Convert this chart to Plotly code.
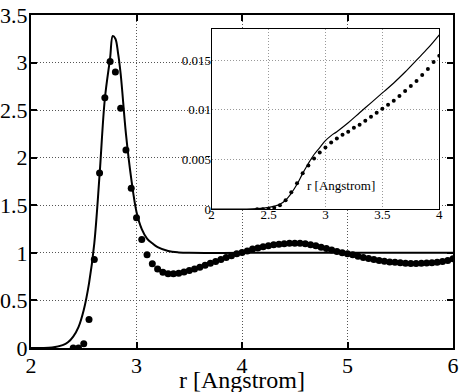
import plotly.graph_objects as go

# main panel: simulated g(r) (solid) vs reference points (dots)
r_line = [2.0, 2.1, 2.2, 2.3, 2.35, 2.4, 2.45, 2.5, 2.55, 2.6, 2.65, 2.7, 2.75,
          2.775, 2.8, 2.825, 2.85, 2.9, 2.95, 3.0, 3.05, 3.1, 3.15, 3.2, 3.3,
          3.4, 3.5, 4.0, 4.5, 5.0, 5.5, 6.0]
g_line = [0.0, 0.0, 0.005, 0.03, 0.06, 0.12, 0.22, 0.40, 0.68, 1.10, 1.82, 2.62, 3.05,
          3.28, 3.25, 3.10, 2.88, 2.25, 1.78, 1.43, 1.25, 1.15, 1.10, 1.06, 1.02,
          1.005, 1.0, 1.0, 1.0, 1.0, 1.0, 1.0]

r_pts = [round(2.4 + 0.05 * i, 2) for i in range(73)]
g_pts = [0.0, 0.0, 0.045, 0.30, 0.93, 1.84, 2.63, 3.01, 2.90, 2.52,
         2.08, 1.68, 1.37, 1.14, 0.98, 0.885, 0.83, 0.795, 0.78, 0.78,
         0.785, 0.80, 0.815, 0.83, 0.85, 0.87, 0.89, 0.91, 0.93, 0.95,
         0.97, 0.99, 1.005, 1.02, 1.04, 1.05, 1.065, 1.075, 1.085, 1.09,
         1.095, 1.10, 1.10, 1.10, 1.095, 1.085, 1.075, 1.06, 1.045, 1.03,
         1.015, 1.00, 0.99, 0.98, 0.965, 0.952, 0.94, 0.93, 0.92, 0.912,
         0.905, 0.90, 0.895, 0.89, 0.888, 0.888, 0.89, 0.893, 0.897, 0.90,
         0.91, 0.92, 0.937]

# inset: running integral
r_ins_line = [2.0, 2.2, 2.3, 2.4, 2.5, 2.55, 2.6, 2.65, 2.7, 2.75, 2.8, 2.85, 2.9,
              2.95, 3.0, 3.05, 3.1, 3.2, 3.3, 3.4, 3.5, 3.6, 3.7, 3.8, 3.9, 4.0]
n_ins_line = [0.0, 0.0, 0.00001, 0.00005, 0.00017, 0.0003, 0.0005, 0.0009, 0.0016,
              0.0025, 0.0036, 0.0046, 0.0055, 0.0062, 0.0069, 0.0074, 0.0078,
              0.0087, 0.0097, 0.0107, 0.0117, 0.0127, 0.0138, 0.0150, 0.0162, 0.01755]

r_ins_pts = [round(2.4 + 0.05 * i, 2) for i in range(33)]
n_ins_pts = [0.0, 0.0, 0.00003, 0.00015, 0.0004, 0.0009, 0.0017, 0.0026, 0.0036,
             0.0044, 0.0051, 0.0057, 0.0062, 0.0067, 0.0071, 0.0075, 0.0078,
             0.0082, 0.0085, 0.0089, 0.0093, 0.0097, 0.0101, 0.0105, 0.0109,
             0.0114, 0.0119, 0.0124, 0.0129, 0.0135, 0.0141, 0.0148, 0.01545]

main_xticks = [2, 3, 4, 5, 6]
main_yticks = [0, 0.5, 1, 1.5, 2, 2.5, 3, 3.5]
ins_xticks = [2, 2.5, 3, 3.5, 4]
ins_yticks = [0, 0.005, 0.01, 0.015]

SERIF = "Liberation Serif"

fig = go.Figure()
fig.add_trace(go.Scatter(x=r_line, y=g_line, mode="lines", line_shape="spline",
                         line=dict(color="black", width=2), showlegend=False))
fig.add_trace(go.Scatter(x=r_pts, y=g_pts, mode="markers",
                         marker=dict(color="black", size=7), showlegend=False))
fig.add_trace(go.Scatter(x=r_ins_line, y=n_ins_line, mode="lines", line_shape="spline",
                         line=dict(color="black", width=1.2), showlegend=False,
                         xaxis="x2", yaxis="y2"))
fig.add_trace(go.Scatter(x=r_ins_pts, y=n_ins_pts, mode="markers",
                         marker=dict(color="black", size=4), showlegend=False,
                         xaxis="x2", yaxis="y2"))

main_axis = dict(showline=True, linecolor="black", linewidth=2, mirror="ticks",
                 ticks="inside", ticklen=6, tickcolor="black", tickwidth=1.5,
                 showgrid=True, gridcolor="#555", griddash="1px,2px", gridwidth=1,
                 zeroline=False, automargin=False,
                 tickfont=dict(family=SERIF, size=22, color="black"))
inset_axis = dict(showline=True, linecolor="black", linewidth=1.2, mirror=True,
                  ticks="", showgrid=True, gridcolor="#999", griddash="1px,2px",
                  gridwidth=1, zeroline=False, automargin=False,
                  tickfont=dict(family=SERIF, size=13, color="black"))

fig.update_layout(
    width=463, height=392,
    margin=dict(l=31, r=10, t=15, b=44),
    paper_bgcolor="white", plot_bgcolor="white",
    xaxis=dict(main_axis, range=[2, 6], tickvals=main_xticks, ticklabelstandoff=-3),
    yaxis=dict(main_axis, range=[0, 3.5], tickvals=main_yticks, ticklabelstandoff=-3,
               ticktext=[f"{v:g}" for v in main_yticks]),
    xaxis2=dict(inset_axis, domain=[0.428, 0.9675], anchor="y2", range=[2, 4],
                tickvals=ins_xticks, ticklabelstandoff=-7),
    yaxis2=dict(inset_axis, domain=[0.417, 0.957], anchor="x2", range=[0, 0.0181],
                tickvals=ins_yticks, ticklabelstandoff=-3,
                ticktext=[f"{v:g}" for v in ins_yticks]),
    shapes=[dict(type="rect", xref="x2 domain", yref="y2 domain",
                 x0=-0.12, x1=1.02, y0=-0.083, y1=1.04,
                 fillcolor="white", line=dict(width=0), layer="below")],
    annotations=[
        dict(text="r [Angstrom]", xref="x2 domain", yref="y2 domain",
             x=0.57, y=0.08, showarrow=False,
             font=dict(family=SERIF, size=13, color="black")),
        dict(text="r [Angstrom]", xref="paper", yref="paper",
             x=0.5, y=-0.05, yanchor="top", showarrow=False,
             font=dict(family=SERIF, size=24, color="black")),
    ],
)

# the page body has a default 8px margin; drop it so the figure sits at (0, 0)
fig.write_html("out.html", config={"displayModeBar": False},
               post_script="document.body.style.margin='0';")
